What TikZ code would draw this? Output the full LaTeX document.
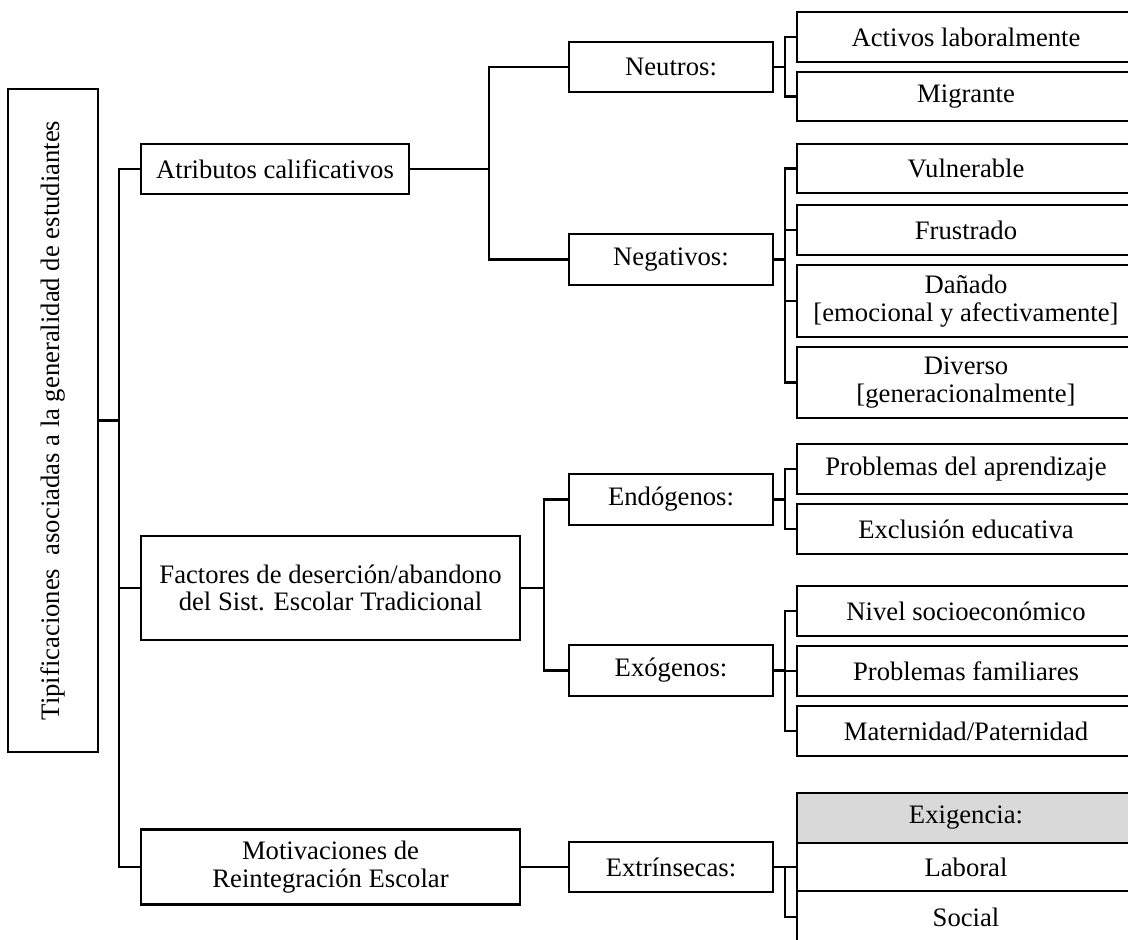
\documentclass[tikz,border=0pt]{standalone}
\usepackage{fontspec}
\setmainfont{Liberation Serif}
\begin{document}
\begin{tikzpicture}[x=0.75pt,y=-0.75pt,
  bx/.style={draw, line width=1.6pt, inner sep=0pt, align=center, font=\fontsize{20}{20.5}\selectfont},
  wh/.style 2 args={minimum width={#1*0.75pt}, minimum height={#2*0.75pt}},
  lv2/.style={bx, wh={204}{#1}},
  leaf/.style={bx, wh={338}{#1}},
  ln/.style={line width=1.6pt}]
\useasboundingbox (0,0) rectangle (1128,939);

% root
\node[bx, wh={90}{663}] (root) at (53,420.5) {\rotatebox{90}{Tipificaciones\hspace{0.5em}asociadas a la generalidad de estudiantes}};

% level 1
\node[bx, wh={268}{50}] (atr) at (275,169) {Atributos calificativos};
\node[bx, wh={379}{104}] (fac) at (330.5,588) {Factores de deserción/abandono\\del Sist. Escolar Tradicional};
\node[bx, wh={379}{75}] (mot) at (330.5,867) {Motivaciones de\\Reintegración Escolar};

% level 2
\node[lv2=50] (neu) at (671,67) {Neutros:};
\node[lv2=51] (neg) at (671,259.5) {Negativos:};
\node[lv2=51] (endo) at (671,499.5) {Endógenos:};
\node[lv2=51] (exo) at (671,670.5) {Exógenos:};
\node[lv2=50] (ext) at (671,867) {Extrínsecas:};

% leaves
\node[leaf=50] (act) at (966,37) {Activos laboralmente};
\node[leaf=49] (mig) at (966,96.5) {Migrante};
\node[leaf=49] (vul) at (966,168.5) {Vulnerable};
\node[leaf=50] (fru) at (966,230) {Frustrado};
\node[leaf=72] (dan) at (966,301) {Dañado\\{[}emocional y afectivamente{]}};
\node[leaf=71] (div) at (966,382.5) {Diverso\\{[}generacionalmente{]}};
\node[leaf=50] (pa) at (966,469) {Problemas del aprendizaje};
\node[leaf=50] (exc) at (966,529) {Exclusión educativa};
\node[leaf=50] (niv) at (966,611) {Nivel socioeconómico};
\node[leaf=50] (pf) at (966,671) {Problemas familiares};
\node[leaf=50] (mat) at (966,731) {Maternidad/Paternidad};
\node[leaf=50, fill=black!15] (exi) at (966,818) {Exigencia:};
\node[leaf=48] (lab) at (966,867) {Laboral};
\node[leaf=52] (soc) at (966,917) {Social};

% junctions
\coordinate (j0) at (119,420.5);
\coordinate (jA) at (489,169);
\coordinate (jF) at (544,588);
\coordinate (jNeu) at (785,67);
\coordinate (jNeg) at (785,259.5);
\coordinate (jEn) at (785,499.5);
\coordinate (jEx) at (785,670.5);
\coordinate (jExt) at (785,867);

% connectors
\draw[ln] (root.east) -- (j0);
\foreach \n in {atr,fac,mot} \draw[ln] (\n.west) -| (j0);

\draw[ln] (atr.east) -- (jA);
\foreach \n in {neu,neg} \draw[ln] (\n.west) -| (jA);

\draw[ln] (fac.east) -- (jF);
\foreach \n in {endo,exo} \draw[ln] (\n.west) -| (jF);

\draw[ln] (mot.east) -- (ext.west);

\draw[ln] (neu.east) -- (jNeu);
\foreach \n in {act,mig} \draw[ln] (\n.west) -| (jNeu);

\draw[ln] (neg.east) -- (jNeg);
\foreach \n in {vul,fru,dan,div} \draw[ln] (\n.west) -| (jNeg);

\draw[ln] (endo.east) -- (jEn);
\foreach \n in {pa,exc} \draw[ln] (\n.west) -| (jEn);

\draw[ln] (exo.east) -- (jEx);
\foreach \n in {niv,pf,mat} \draw[ln] (\n.west) -| (jEx);

\draw[ln] (ext.east) -- (jExt);
\foreach \n in {lab,soc} \draw[ln] (\n.west) -| (jExt);
\end{tikzpicture}
\end{document}
